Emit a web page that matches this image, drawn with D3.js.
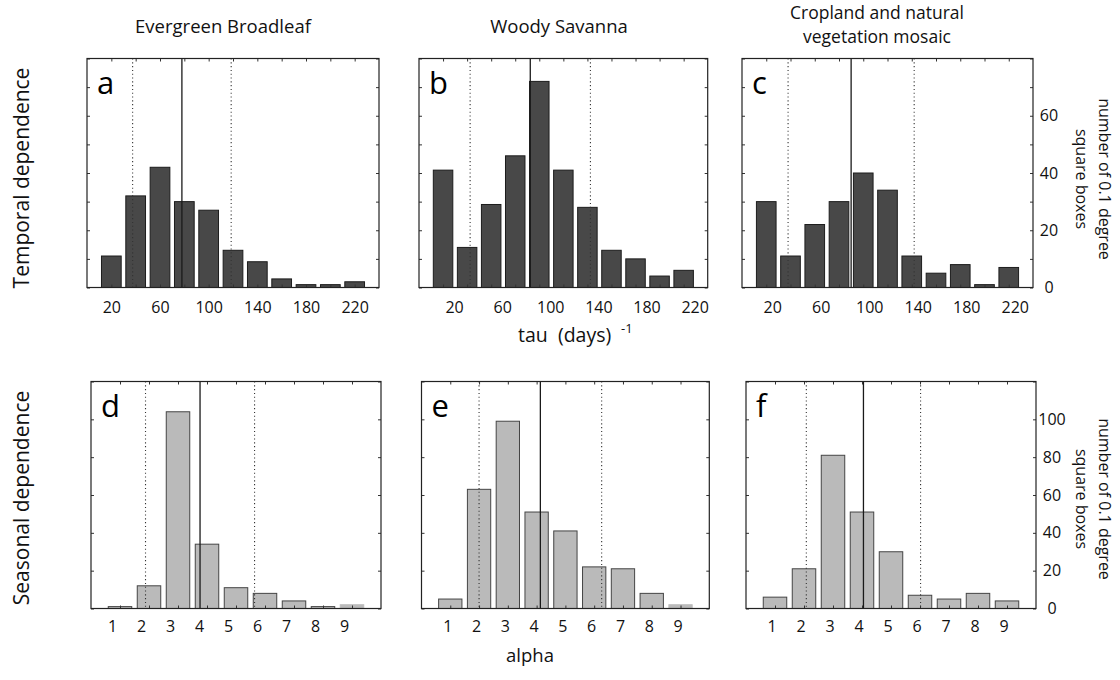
<!DOCTYPE html>
<html>
<head>
<meta charset="utf-8">
<script src="https://cdn.jsdelivr.net/npm/d3@7"></script>
<style>
  body { margin: 0; background: #fff; }
  svg { display: block; font-family: "Open Sans", sans-serif; }
</style>
</head>
<body>
<svg id="fig" width="1120" height="680"></svg>
<script>
// ---- histogram bins and counts ----
const tauBins = [20, 40, 60, 80, 100, 120, 140, 160, 180, 200, 220];
const alphaBins = [1, 2, 3, 4, 5, 6, 7, 8, 9];

const tauEvergreen = [11, 32, 42, 30, 27, 13, 9, 3, 1, 1, 2];
const tauSavanna   = [41, 14, 29, 46, 72, 41, 28, 13, 10, 4, 6];
const tauCropland  = [30, 11, 22, 30, 40, 34, 11, 5, 8, 1, 7];

const alphaEvergreen = [1, 12, 104, 34, 11, 8, 4, 1, 2];
const alphaSavanna   = [5, 63, 99, 51, 41, 22, 21, 8, 2];
const alphaCropland  = [6, 21, 81, 51, 30, 7, 5, 8, 4];

// mean (solid line) and standard deviation (dotted lines)
const tauMean = [78, 92.5, 90];
const tauSd   = [40.5, 50, 52];
const alphaMean = [3.76, 4.13, 4.05];
const alphaSd   = [1.88, 2.13, 1.97];

// axis labels
const tauTickLabels = [20, 60, 100, 140, 180, 220];
const alphaTickLabels = [1, 2, 3, 4, 5, 6, 7, 8, 9];
const tauCountTicks = [0, 10, 20, 30, 40, 50, 60, 70, 80];
const tauCountLabels = [0, 20, 40, 60];
const alphaCountTicks = [0, 20, 40, 60, 80, 100, 120];
const alphaCountLabels = [0, 20, 40, 60, 80, 100];

const columnTitles = [["Evergreen Broadleaf"], ["Woody Savanna"], ["Cropland and natural", "vegetation mosaic"]];
const rowTitles = ["Temporal dependence", "Seasonal dependence"];
const panelLetters = ["a", "b", "c", "d", "e", "f"];

// ---- layout ----
const svg = d3.select("#fig");

const topRow = { y0: 58.5, y1: 287.5 };
const botRow = { y0: 381.5, y1: 608.5 };
const frames = [
  { x0: 87,    x1: 379,    row: topRow, labelShift: 0 },
  { x0: 419,   x1: 707.7,  row: topRow, labelShift: 11 },
  { x0: 742,   x1: 1033,   row: topRow, labelShift: 6 },
  { x0: 91,    x1: 381,    row: botRow, labelShift: -8 },
  { x0: 421.5, x1: 709.3,  row: botRow, labelShift: -3 },
  { x0: 746,   x1: 1036,   row: botRow, labelShift: -3.5 }
];

const tauCounts = [tauEvergreen, tauSavanna, tauCropland];
const alphaCounts = [alphaEvergreen, alphaSavanna, alphaCropland];

frames.forEach((f, i) => {
  const isTau = i < 3;
  const col = i % 3;
  const bins = isTau ? tauBins : alphaBins;
  const counts = isTau ? tauCounts[col] : alphaCounts[col];
  const mean = isTau ? tauMean[col] : alphaMean[col];
  const sd = isTau ? tauSd[col] : alphaSd[col];
  const { y0, y1 } = f.row;

  const x = d3.scaleLinear().domain(isTau ? [0, 240] : [0, 10]).range([f.x0, f.x1]);
  const y = d3.scaleLinear().domain(isTau ? [0, 80] : [0, 120]).range([y1, y0]);
  const step = isTau ? 20 : 1;
  const bw = (x(step) - x(0)) * 0.81;

  const g = svg.append("g");

  // bars
  g.selectAll("rect.bar")
    .data(bins.map((b, k) => ({ b, v: counts[k], k })))
    .join("rect")
    .attr("class", "bar")
    .attr("x", d => x(d.b) - bw / 2)
    .attr("y", d => y(d.v))
    .attr("width", bw)
    .attr("height", d => y(0) - y(d.v))
    .attr("fill", isTau ? "#484848" : "#bababa")
    .attr("stroke", d => (!isTau && d.k === 8 && d.v <= 2) ? "#bdbdbd" : (isTau ? "#1c1c1c" : "#454545"))
    .attr("stroke-width", 1);

  // mean and +/- one standard deviation
  g.append("line")
    .attr("x1", x(mean)).attr("x2", x(mean))
    .attr("y1", y0).attr("y2", y1)
    .attr("stroke", "#1a1a1a").attr("stroke-width", 1.3);
  [mean - sd, mean + sd].forEach(v => {
    g.append("line")
      .attr("x1", x(v)).attr("x2", x(v))
      .attr("y1", y0).attr("y2", y1)
      .attr("stroke", "#333").attr("stroke-width", 1.1)
      .attr("stroke-dasharray", "1.1,2.7");
  });

  // inward tick marks on all four sides
  const countTicks = isTau ? tauCountTicks : alphaCountTicks;
  const tickAxes = [
    [d3.axisLeft(y).tickValues(countTicks), `translate(${f.x0},0)`],
    [d3.axisRight(y).tickValues(countTicks), `translate(${f.x1},0)`],
    [d3.axisBottom(x).tickValues(bins), `translate(0,${y1})`],
    [d3.axisTop(x).tickValues(bins), `translate(0,${y0})`]
  ];
  tickAxes.forEach(([ax, tr]) => {
    const a = g.append("g").attr("transform", tr)
      .call(ax.tickSize(-3).tickFormat(""));
    a.select(".domain").remove();
    a.selectAll("line").attr("stroke", "#333").attr("stroke-width", 1);
  });

  // frame
  g.append("rect")
    .attr("x", f.x0).attr("y", y0)
    .attr("width", f.x1 - f.x0).attr("height", y1 - y0)
    .attr("fill", "none").attr("stroke", "#222").attr("stroke-width", 1.2);

  // bottom tick labels
  const xl = g.append("g").attr("transform", `translate(0,${y1})`)
    .call(d3.axisBottom(x).tickValues(isTau ? tauTickLabels : alphaTickLabels).tickSize(0).tickPadding(0));
  xl.select(".domain").remove();
  xl.selectAll("text")
    .attr("font-family", "Open Sans")
    .attr("font-size", 16)
    .attr("fill", "#111")
    .attr("dy", null)
    .attr("y", isTau ? 25 : 23.5)
    .attr("dx", f.labelShift);

  // right-hand count axis on the last column
  if (col === 2) {
    const yl = g.append("g").attr("transform", `translate(${f.x1},0)`)
      .call(d3.axisRight(y).tickValues(isTau ? tauCountLabels : alphaCountLabels).tickSize(0));
    yl.select(".domain").remove();
    yl.selectAll("text")
      .attr("font-family", "Open Sans")
      .attr("font-size", 16)
      .attr("fill", "#111")
      .attr("text-anchor", "middle")
      .attr("x", 16);

    const tx = [1099, 1076];
    const cy = isTau ? 179 : 499;
    ["number of 0.1 degree", "square boxes"].forEach((t, k) => {
      svg.append("text")
        .attr("transform", `translate(${tx[k]},${cy}) rotate(90)`)
        .attr("text-anchor", "middle")
        .attr("font-size", 16)
        .attr("fill", "#111")
        .text(t);
    });
  }

  // panel letter
  svg.append("text")
    .attr("x", f.x0 + 10)
    .attr("y", y0 + 35)
    .attr("font-size", 31)
    .attr("fill", "#000")
    .text(panelLetters[i]);
});

// column titles (multi-line titles as tspans of one text)
const titleCenters = [223, 559, 877];
columnTitles.forEach((lines, c) => {
  const multi = lines.length > 1;
  const t = svg.append("text")
    .attr("x", titleCenters[c])
    .attr("y", multi ? 19 : 33)
    .attr("text-anchor", "middle")
    .attr("font-size", multi ? 17.5 : 18.5)
    .attr("fill", "#111");
  lines.forEach((s, k) => {
    t.append("tspan")
      .attr("x", titleCenters[c])
      .attr("dy", k === 0 ? 0 : 24)
      .text(s);
  });
});

// row titles
[178, 498].forEach((cy, r) => {
  svg.append("text")
    .attr("transform", `translate(29,${cy}) rotate(-90)`)
    .attr("text-anchor", "middle")
    .attr("font-size", 21)
    .attr("fill", "#111")
    .text(rowTitles[r]);
});

// x-axis titles
const tauTitle = svg.append("text")
  .attr("x", 518).attr("y", 341.5)
  .attr("font-size", 19.5)
  .attr("fill", "#111");
tauTitle.append("tspan").text("tau\u00a0\u00a0(days)");
tauTitle.append("tspan")
  .attr("x", 621).attr("y", 333)
  .attr("font-size", 13)
  .text("-1");

svg.append("text")
  .attr("x", 530).attr("y", 662)
  .attr("text-anchor", "middle")
  .attr("font-size", 18.5)
  .attr("fill", "#111")
  .text("alpha");
</script>
</body>
</html>
